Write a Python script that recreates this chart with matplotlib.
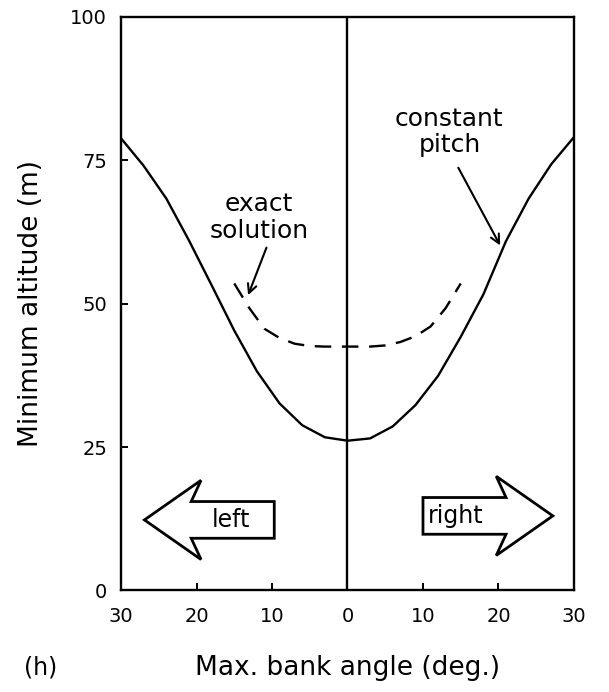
import matplotlib
matplotlib.use("Agg")
import matplotlib.pyplot as plt
from matplotlib.patches import Polygon

# constant pitch curve (solid)
bank_const = [-30, -27, -24, -21, -18, -15, -12, -9, -6, -3, 0,
              3, 6, 9, 12, 15, 18, 21, 24, 27, 30]
alt_const = [78.8, 74.0, 68.3, 61.0, 53.2, 45.3, 38.2, 32.6, 28.8, 26.7, 26.1,
             26.5, 28.6, 32.3, 37.4, 44.2, 51.6, 60.9, 68.3, 74.3, 79.0]

# exact solution curve (dashed)
bank_exact = [-15, -13, -11, -9, -7, -5, -3, 0, 3, 5, 7, 9, 11, 13, 15]
alt_exact = [53.5, 49.2, 45.6, 44.0, 43.0, 42.6, 42.5, 42.5, 42.5, 42.7, 43.3, 44.3, 46.0, 49.2, 53.5]

x_ticks = [-30, -20, -10, 0, 10, 20, 30]
x_ticklabels = ["30", "20", "10", "0", "10", "20", "30"]
y_ticks = [0, 25, 50, 75, 100]

plt.rcParams['font.family'] = ['DejaVu Sans']

fig = plt.figure(figsize=(6.09, 6.92), dpi=100)
ax = fig.add_axes([0.1987, 0.1467, 0.7438, 0.8293])

ax.plot(bank_const, alt_const, color='black', lw=1.7)
ax.plot(bank_exact, alt_exact, color='black', lw=1.7, dashes=(7, 4.5))
ax.axvline(0, color='black', lw=1.7)

ax.set_xlim(-30, 30)
ax.set_ylim(0, 100)
ax.set_xticks(x_ticks)
ax.set_xticklabels(x_ticklabels)
ax.set_yticks(y_ticks)
ax.tick_params(direction='in', length=5, width=1.4, labelsize=14, pad=12)
ax.tick_params(axis='y', pad=10)
for s in ax.spines.values():
    s.set_linewidth(1.7)

ax.set_ylabel("Minimum altitude (m)", fontsize=19, labelpad=19)
ax.set_xlabel("Max. bank angle (deg.)", fontsize=19, labelpad=21)
fig.text(0.066, 0.036, "(h)", fontsize=17, ha='center', va='center')

# text labels with arrows
ax.annotate("", xy=(-13.3, 51.0), xytext=(-10.6, 60.2),
            arrowprops=dict(arrowstyle='->', lw=1.5, color='black', mutation_scale=16))
ax.text(-11.7, 65.0, "exact\nsolution", ha='center', va='center', fontsize=18, linespacing=1.15)

ax.annotate("", xy=(20.4, 59.7), xytext=(14.5, 74.1),
            arrowprops=dict(arrowstyle='->', lw=1.5, color='black', mutation_scale=16))
ax.text(13.5, 79.9, "constant\npitch", ha='center', va='center', fontsize=18, linespacing=1.15)


def big_arrow(ax, tip, tail, y, label, text_x):
    d = 1 if tip > tail else -1
    hs, hh = 3.2, 6.9
    pts = [(tip, y),
           (tip - d * 7.5, y + hh),
           (tip - d * 6.2, y + hs),
           (tail, y + hs),
           (tail, y - hs),
           (tip - d * 6.2, y - hs),
           (tip - d * 7.5, y - hh)]
    ax.add_patch(Polygon(pts, closed=True, fill=False, ec='black', lw=2.0, joinstyle='miter'))
    ax.text(text_x, y, label, ha='center', va='center', fontsize=17)


big_arrow(ax, -26.9, -9.7, 12.3, "left", -15.4)
big_arrow(ax, 27.2, 10.0, 13.0, "right", 14.3)

fig.savefig("out.png", dpi=100)
